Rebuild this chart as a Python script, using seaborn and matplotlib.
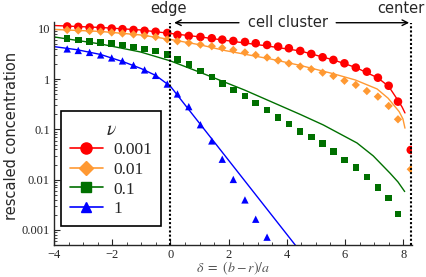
import numpy as np
import pandas as pd
import matplotlib
matplotlib.use("Agg")
import matplotlib.pyplot as plt
from matplotlib.lines import Line2D
from matplotlib.ticker import FixedLocator, LogLocator, NullFormatter
import seaborn as sns

# marker positions delta = (b - r)/a
delta_pts = [-3.55, -3.17, -2.78, -2.40, -2.02, -1.65, -1.27, -0.89, -0.51, -0.11,
             0.24, 0.63, 1.03, 1.42, 1.78, 2.16, 2.56, 2.93, 3.32, 3.70,
             4.07, 4.46, 4.84, 5.23, 5.60, 5.98, 6.37, 6.75, 7.13, 7.50,
             7.82, 8.26]

# simulation points (markers)
conc_0001 = [11.2, 11.0, 10.7, 10.5, 10.2, 9.9, 9.55, 9.2, 8.8, 8.3,
             7.6, 7.26, 6.93, 6.53, 6.13, 5.77, 5.51, 5.19, 4.80, 4.45,
             4.13, 3.65, 3.18, 2.73, 2.42, 2.07, 1.70, 1.41, 1.07, 0.74,
             0.357, 0.039]
conc_001 = [9.55, 9.33, 9.12, 8.84, 8.51, 8.13, 7.78, 7.36, 6.93, 6.18,
            5.69, 5.26, 4.87, 4.53, 4.19, 3.82, 3.41, 3.03, 2.70, 2.36,
            2.06, 1.79, 1.58, 1.35, 1.16, 0.93, 0.77, 0.58, 0.449, 0.293,
            0.159, 0.0161]
conc_01 = [6.41, 5.96, 5.69, 5.43, 5.09, 4.74, 4.38, 4.0, 3.60, 3.11,
           2.47, 1.96, 1.46, 1.11, 0.83, 0.61, 0.464, 0.332, 0.244, 0.174,
           0.128, 0.090, 0.070, 0.053, 0.036, 0.0245, 0.0175, 0.0114, 0.0070, 0.00435,
           0.00206]
conc_1 = [4.0, 3.73, 3.41, 3.04, 2.65, 2.31, 1.90, 1.53, 1.19, 0.80,
          0.508, 0.284, 0.124, 0.059, 0.0255, 0.0101, 0.00395, 0.00163, 0.000716]

# theory curves
line_x_0001 = [-4.0, -2.4, -1.03, 0.0, 1.03, 2.16, 3.32, 4.46, 5.6, 6.37, 7.13, 7.5, 7.82, 7.96, 8.06]
line_y_0001 = [11.7, 10.7, 9.55, 8.13, 6.93, 5.64, 4.59, 3.65, 2.42, 1.71, 1.06, 0.72, 0.378, 0.28, 0.213]
line_x_001 = [-4.0, -2.4, -1.03, 0.0, 1.0, 1.89, 3.43, 4.46, 5.56, 6.35, 7.1, 7.48, 7.86, 7.99, 8.06]
line_y_001 = [9.77, 8.92, 7.6, 6.18, 4.85, 3.70, 2.53, 1.88, 1.30, 0.966, 0.64, 0.418, 0.226, 0.162, 0.106]
line_x_01 = [-4.0, -2.4, -1.03, 0.0, 1.03, 2.54, 4.46, 5.25, 6.41, 6.97, 7.55, 7.82, 8.05]
line_y_01 = [6.93, 5.02, 3.48, 2.31, 1.36, 0.61, 0.199, 0.123, 0.0538, 0.0297, 0.0134, 0.0090, 0.0058]
line_x_1 = [-4.0, -3.2, -2.4, -1.6, -1.0, -0.5, 0.0, 4.3]
line_y_1 = [4.45, 3.85, 3.1, 2.2, 1.62, 1.18, 0.72, 0.00049]

nu_labels = ["0.001", "0.01", "0.1", "1"]
colors = ["#ff0000", "#ff9933", "#007000", "#0000ff"]
markers = ["o", "D", "s", "^"]
msizes = [38, 18, 22, 28]

sns.set_style("ticks")
plt.rcParams["mathtext.fontset"] = "stix"

fig, ax = plt.subplots(figsize=(4.26, 2.77), dpi=100)
fig.subplots_adjust(left=0.127, right=0.967, bottom=0.1155, top=0.922)

curves = [(line_x_0001, line_y_0001), (line_x_001, line_y_001),
          (line_x_01, line_y_01), (line_x_1, line_y_1)]
points = [conc_0001, conc_001, conc_01, conc_1]

for (lx, ly), col in zip(curves, colors):
    df = pd.DataFrame({"delta": lx, "c": ly})
    sns.lineplot(data=df, x="delta", y="c", color=col, lw=1.0, ax=ax,
                 sort=False, estimator=None)

for pts, col, mk, ms in zip(points, colors, markers, msizes):
    df = pd.DataFrame({"delta": delta_pts[:len(pts)], "c": pts})
    sns.scatterplot(data=df, x="delta", y="c", color=col, marker=mk, s=ms,
                    edgecolor="none", ax=ax, zorder=3)

ax.set_yscale("log")
ax.set_xlim(-4, 8.3)
ax.set_ylim(5.0e-4, 14.0)

# edge and center of the cluster
for xv in [0, 8.27]:
    ax.plot([xv, xv], [5.0e-4, 13.3], color="black", lw=1.5,
            ls=(0, (1, 1)), clip_on=False, zorder=4)

ax.annotate("", xy=(0.03, 13.3), xytext=(2.45, 13.3),
            arrowprops=dict(arrowstyle="->", lw=1.0, color="black"),
            annotation_clip=False)
ax.annotate("", xy=(8.3, 13.3), xytext=(5.6, 13.3),
            arrowprops=dict(arrowstyle="->", lw=1.0, color="black"),
            annotation_clip=False)
ax.text(4.05, 13.3, "cell cluster", ha="center", va="center", fontsize=10.5,
        family="DejaVu Sans")
ax.text(-0.07, 25, "edge", ha="center", va="center", fontsize=10.5,
        family="DejaVu Sans")
ax.text(7.93, 26, "center", ha="center", va="center", fontsize=10.5,
        family="DejaVu Sans")

sns.despine(ax=ax)
ax.spines["left"].set_linewidth(1.0)
ax.spines["bottom"].set_linewidth(1.0)

ax.set_yticks([0.001, 0.01, 0.1, 1, 10])
ax.set_yticklabels(["0.001", "0.01", "0.1", "1", "10"])
ax.yaxis.set_minor_locator(LogLocator(base=10, subs=np.arange(2, 10)))
ax.yaxis.set_minor_formatter(NullFormatter())
ax.set_xticks([-4, -2, 0, 2, 4, 6, 8])
ax.set_xticklabels(["\u22124", "\u22122", "0", "2", "4", "6", "8"])
ax.xaxis.set_minor_locator(FixedLocator(np.arange(-4, 8.3, 0.5)))
ax.tick_params(which="major", direction="in", length=4, width=0.8, labelsize=9, pad=3)
ax.tick_params(which="minor", direction="in", length=2, width=0.6)
for lab in ax.get_xticklabels() + ax.get_yticklabels():
    lab.set_family("Liberation Serif")

ax.set_xlabel(r"$\delta\ =\ (b - r)/a$", fontsize=10, color="#555555")
ax.xaxis.set_label_coords(0.5, -0.066)
ax.set_ylabel("rescaled concentration", fontsize=10.5, family="DejaVu Sans")
ax.yaxis.set_label_coords(-0.097, 0.486)

handles = [Line2D([], [], color=c, marker=m, markersize=s, lw=1.2)
           for c, m, s in zip(colors, markers, [8, 7, 6.5, 7])]
leg = ax.legend(handles, nu_labels, title=r"$\nu$", loc="upper left",
                bbox_to_anchor=(0.02, 0.60), borderaxespad=0, frameon=True,
                fancybox=False, handlelength=1.9, handletextpad=0.6,
                labelspacing=0.2, borderpad=0.5,
                prop={"family": "Liberation Serif", "size": 12.5},
                title_fontsize=14)
leg.get_frame().set_edgecolor("black")
leg.get_frame().set_linewidth(1.2)
leg.get_frame().set_alpha(1)

fig.savefig("out.png", dpi=100)
